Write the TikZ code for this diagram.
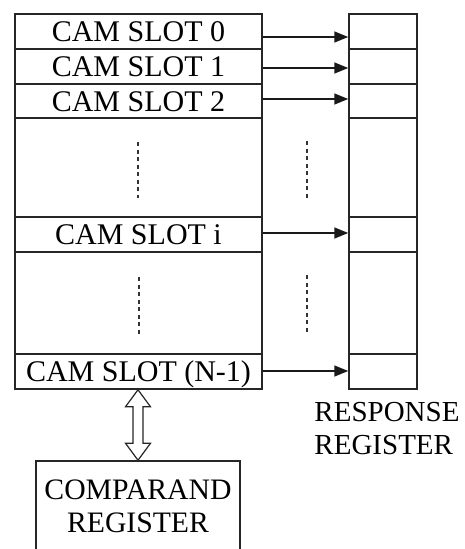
\documentclass[tikz,border=0pt]{standalone}
\usepackage{fontspec}
\setmainfont{Liberation Serif}
\usetikzlibrary{arrows.meta,calc}
\begin{document}
\begin{tikzpicture}[x=1pt,y=-1pt,
  box/.style={draw=black!85, line width=1.5pt, rectangle, inner sep=0pt, minimum width=247pt},
  cell/.style={draw=black!85, line width=1.5pt, rectangle, inner sep=0pt, minimum width=68pt},
  lbl/.style={font=\fontsize{30}{33}\selectfont, text height=20pt, text depth=0pt},
  arr/.style={draw=black!90, line width=1.5pt, -{Triangle[length=14pt,width=11pt]}},
  dots/.style={draw=black!80, line width=1.5pt, dash pattern=on 4pt off 3.5pt},
  hollow/.style={draw=black!85, line width=1.2pt, fill=white}]
\clip (0,0) rectangle (465,549);
% CAM slots
\node[box, lbl, minimum height=35pt] (s0) at (138.5,31.5) {CAM SLOT 0};
\node[box, lbl, minimum height=35pt] (s1) at (138.5,66.5) {CAM SLOT 1};
\node[box, lbl, minimum height=34pt] (s2) at (138.5,101) {CAM SLOT 2};
\node[box, minimum height=99pt] (g1) at (138.5,167.5) {};
\node[box, lbl, minimum height=35pt] (si) at (138.5,234.5) {CAM SLOT i};
\node[box, minimum height=102pt] (g2) at (138.5,303) {};
\node[box, lbl, minimum height=35pt] (sn) at (138.5,371.5) {CAM SLOT (N-1)};
% response register cells
\node[cell, minimum height=35pt] (r0) at (383,31.5) {};
\node[cell, minimum height=35pt] (r1) at (383,66.5) {};
\node[cell, minimum height=34pt] (r2) at (383,101) {};
\node[cell, minimum height=99pt] (rg1) at (383,167.5) {};
\node[cell, minimum height=35pt] (ri) at (383,234.5) {};
\node[cell, minimum height=102pt] (rg2) at (383,303) {};
\node[cell, minimum height=35pt] (rn) at (383,371.5) {};
% arrows
\draw[arr] ([yshift=-5.5pt]s0.east) -- ([yshift=-5.5pt]r0.west);
\draw[arr] ([yshift=-1.5pt]s1.east) -- ([yshift=-1.5pt]r1.west);
\draw[arr] ([yshift=2pt]s2.east) -- ([yshift=2pt]r2.west);
\draw[arr] ([yshift=1.5pt]si.east) -- ([yshift=1.5pt]ri.west);
\draw[arr] ([yshift=0.5pt]sn.east) -- ([yshift=0.5pt]rn.west);
% dotted continuation marks
\draw[dots] (138,142) -- (138,198);
\draw[dots] (307,141) -- (307,198);
\draw[dots] (139,277) -- (139,335);
\draw[dots] (307,275) -- (307,332);
% labels and comparand
\node[font=\fontsize{29}{33}\selectfont, align=left, inner sep=0pt] (resp) at (387,428.5) {RESPONSE\\REGISTER};
\node[draw=black!85, line width=1.5pt, rectangle, inner sep=0pt, minimum width=204pt, minimum height=91pt,
      font=\fontsize{29.7}{33}\selectfont, align=center] (cmp) at (138,506.5) {COMPARAND\\REGISTER};
% double hollow arrow between CAM and comparand
\coordinate (ta) at ($(sn.south)+(-0.5,0)$);
\coordinate (tb) at ($(cmp.north)$);
\draw[hollow] (ta) -- ++(12.5,17) -- ++(-7.5,0) -- ($(tb)+(5,-17)$) -- ++(7.5,0) -- (tb)
  -- ++(-12.5,-17) -- ++(7.5,0) -- ($(ta)+(-5,17)$) -- ++(-7.5,0) -- cycle;
\end{tikzpicture}
\end{document}
